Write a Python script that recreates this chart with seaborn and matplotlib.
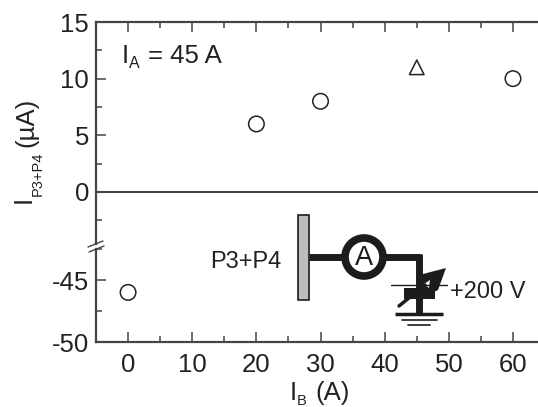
import matplotlib
matplotlib.use("Agg")
import matplotlib.pyplot as plt
from matplotlib.patches import Circle, Polygon, Rectangle
from matplotlib.ticker import MultipleLocator
import seaborn as sns

# measured data
circle_x = [0, 20, 30, 60]
circle_y = [-46, 6, 8, 10]
triangle_x = [45]
triangle_y = [11]
upper_ticks = [0, 5, 10, 15]
lower_ticks = [-50, -45]
x_ticks = [0, 10, 20, 30, 40, 50, 60]

sns.set_style("ticks")
plt.rcParams['font.family'] = ['Liberation Sans', 'DejaVu Sans']
plt.rcParams['axes.unicode_minus'] = False

W, H = 538, 407
DARK = '#444444'
TXT = '#222222'
BIG = 18.5
SUB = 10.5
fig = plt.figure(figsize=(W / 100, H / 100), dpi=100)


def px_axes(left, top, right, bottom):
    return fig.add_axes([left / W, 1 - bottom / H, (right - left) / W, (bottom - top) / H])


top_ax = px_axes(96, 22, 538, 244)
low_ax = px_axes(96, 249, 538, 342)

for ax in (top_ax, low_ax):
    sns.scatterplot(x=circle_x, y=circle_y, marker='o', s=125, facecolor='none',
                    edgecolor=TXT, linewidth=1.1, ax=ax)
    ax.set_xlim(-5, 63.9)
    ax.xaxis.set_minor_locator(MultipleLocator(5))
    ax.set_xticks(x_ticks)
    ax.tick_params(which='major', direction='in', length=7, width=1.1, color=DARK,
                   labelsize=BIG, labelcolor=TXT, pad=5)
    ax.tick_params(which='minor', direction='in', length=4, width=1.1, color=DARK)
    for s in ax.spines.values():
        s.set_linewidth(1.6)
        s.set_color(DARK)
    ax.spines['right'].set_visible(False)

sns.scatterplot(x=triangle_x, y=triangle_y, marker='^', s=110, facecolor='none',
                edgecolor=TXT, linewidth=1.1, ax=top_ax)
top_ax.set_ylim(-4.6, 15)
top_ax.set_yticks(upper_ticks)
top_ax.yaxis.set_minor_locator(MultipleLocator(2.5))
top_ax.axhline(0, color=DARK, lw=1.5)
top_ax.spines['bottom'].set_visible(False)
top_ax.tick_params(axis='x', which='both', bottom=False, top=True, labelbottom=False)

low_ax.set_ylim(-50, -42.5)
low_ax.set_yticks(lower_ticks)
low_ax.yaxis.set_minor_locator(MultipleLocator(2.5))
low_ax.spines['top'].set_visible(False)
low_ax.tick_params(axis='x', which='major', pad=8)

# overlay in pixel coordinates for labels, break marks and the circuit sketch
ov = fig.add_axes([0, 0, 1, 1], zorder=5)
ov.set_xlim(0, W)
ov.set_ylim(H, 0)
ov.axis('off')
ink = '#1c1c1c'

# y label pieces
ov.text(24, 199, 'I', rotation=90, fontsize=BIG, color=TXT, ha='center', va='center')
ov.text(37.5, 174, 'P3+P4', rotation=90, fontsize=SUB, color=TXT, ha='center', va='center')
ov.text(26, 122, '(µA)', rotation=90, fontsize=BIG, color=TXT, ha='center', va='center')

# x label pieces, subscript kept just inside the bottom edge
ov.text(290, 400, 'I', fontsize=BIG, color=TXT, ha='left', va='baseline')
ov.text(297, 405, 'B', fontsize=SUB, color=TXT, ha='left', va='baseline')
ov.text(315, 400, '(A)', fontsize=BIG, color=TXT, ha='left', va='baseline')

# I_A annotation
ov.text(122, 63, 'I', fontsize=BIG, color=TXT, ha='left', va='baseline')
ov.text(129, 68, 'A', fontsize=SUB + 1, color=TXT, ha='left', va='baseline')
ov.text(148, 63, '= 45 A', fontsize=BIG, color=TXT, ha='left', va='baseline')

ov.plot([88, 103], [247, 241], color=DARK, lw=1)
ov.plot([89, 104], [252, 246], color=DARK, lw=1)

ov.add_patch(Rectangle((298, 215), 11, 85, fc='#bdbdbd', ec=ink, lw=1.2))
ov.plot([309, 345], [257, 257], color=ink, lw=5, solid_capstyle='butt')
ov.plot([383, 421], [257, 257], color=ink, lw=5, solid_capstyle='butt')
ov.plot([419, 419], [254, 314], color=ink, lw=5, solid_capstyle='butt')
ov.add_patch(Circle((364, 257), 19, fc='white', ec=ink, lw=5.5))
ov.text(364, 258, 'A', fontsize=19.5, color=ink, ha='center', va='center')
ov.plot([395, 443], [314, 314], color=ink, lw=2.5, solid_capstyle='butt')
ov.plot([402, 437], [320, 320], color=ink, lw=1.2)
ov.plot([408, 430], [325, 325], color=ink, lw=1.2)
ov.plot([391, 447], [285, 285], color=ink, lw=1)
ov.add_patch(Rectangle((404, 288), 31, 11, fc=ink, ec='none'))
ov.plot([399, 425], [306, 285], color=ink, lw=2.5)
ov.add_patch(Polygon([(446, 268), (423, 274), (417, 283), (430, 294), (438, 290)], fc=ink, ec='none'))
ov.add_patch(Polygon([(424, 284), (430, 280), (429, 288)], fc='white', ec='none'))
ov.text(246, 262, 'P3+P4', fontsize=17, color=TXT, ha='center', va='center')
ov.text(450, 292, '+200 V', fontsize=17, color=TXT, ha='left', va='center')

fig.savefig('out.png', dpi=100)
